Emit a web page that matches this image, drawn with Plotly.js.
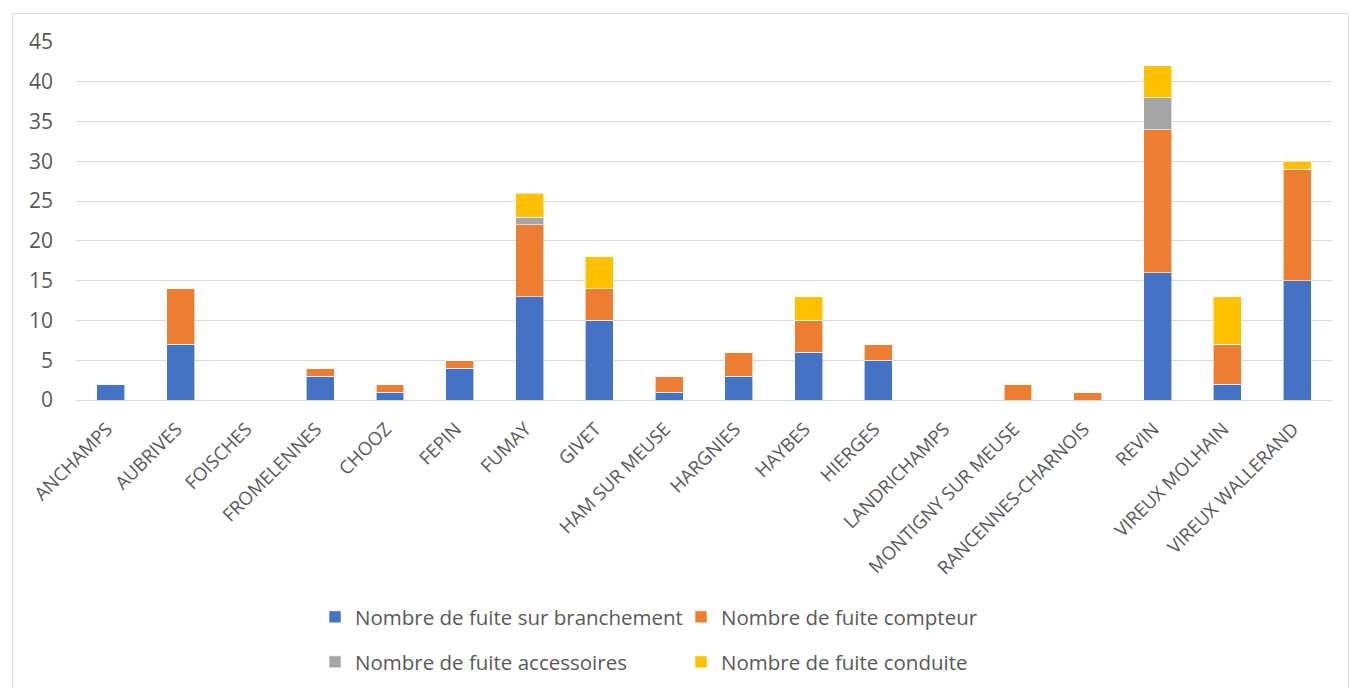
<!DOCTYPE html>
<html>
<head>
<meta charset="utf-8">
<script src="https://cdn.plot.ly/plotly-3.0.1.min.js"></script>
<style>html,body{margin:0;padding:0;background:#fff;}#chart{width:1349px;height:688px;}</style>
</head>
<body>
<div id="chart"></div>
<script>
const communes = ["ANCHAMPS","AUBRIVES","FOISCHES","FROMELENNES","CHOOZ","FEPIN","FUMAY","GIVET","HAM SUR MEUSE","HARGNIES","HAYBES","HIERGES","LANDRICHAMPS","MONTIGNY SUR MEUSE","RANCENNES-CHARNOIS","REVIN","VIREUX MOLHAIN","VIREUX WALLERAND"];
const branchement = [2,7,0,3,1,4,13,10,1,3,6,5,0,0,0,16,2,15];
const compteur    = [0,7,0,1,1,1,9,4,2,3,4,2,0,2,1,18,5,14];
const accessoires = [0,0,0,0,0,0,1,0,0,0,0,0,0,0,0,4,0,0];
const conduite    = [0,0,0,0,0,0,3,4,0,0,3,0,0,0,0,4,6,1];
const seriesNames = ["Nombre de fuite sur branchement","Nombre de fuite compteur","Nombre de fuite accessoires","Nombre de fuite conduite"];
const yTicks = [0,5,10,15,20,25,30,35,40,45];

const colors = ["#4472C4","#ED7D31","#A5A5A5","#FFC000"];
const vals = [branchement, compteur, accessoires, conduite];
const legendIds = ["legend","legend","legend2","legend2"];
const traces = vals.map((v,i)=>({
  type:"bar", name:seriesNames[i], x:communes, y:v,
  marker:{color:colors[i], line:{color:"rgba(255,255,255,0.6)", width:1}},
  legend:legendIds[i], hoverinfo:"none"
}));

const fontFam = "Open Sans, sans-serif";
const legendBase = {
  orientation:"h", xref:"container", yref:"container", xanchor:"left", yanchor:"middle",
  font:{family:fontFam, size:20.5, color:"#595959"}, entrywidth:321, entrywidthmode:"pixels",
  bgcolor:"rgba(0,0,0,0)", itemclick:false, itemdoubleclick:false, traceorder:"normal"
};
const layout = {
  width:1349, height:688,
  margin:{l:76, r:17, t:42, b:288},
  paper_bgcolor:"#fff", plot_bgcolor:"#fff",
  barmode:"stack", bargap:0.6,
  showlegend:true,
  legend:Object.assign({}, legendBase, {x:315/1349, y:1-617/688}),
  legend2:Object.assign({}, legendBase, {x:315/1349, y:1-662/688}),
  xaxis:{
    type:"category", tickangle:-45, showgrid:false, zeroline:false,
    showline:true, linecolor:"#d9d9d9", linewidth:1, ticks:"",
    ticklabelstandoff:10, ticklabelshift:-4,
    tickfont:{family:fontFam, size:18.5, color:"#595959"}, fixedrange:true
  },
  yaxis:{
    range:[0,45], tickvals:yTicks, ticktext:yTicks.map(String),
    showgrid:true, gridcolor:"#d9d9d9", gridwidth:1, zeroline:false, showline:false, ticks:"",
    ticklabelstandoff:22,
    tickfont:{family:fontFam, size:21, color:"#595959"}, fixedrange:true
  },
  shapes:[{
    type:"rect", xref:"paper", yref:"paper",
    x0:(12.5-76)/1256, x1:(1348.5-76)/1256, y0:(400-700)/358, y1:(400-13.5)/358,
    line:{color:"#d9d9d9", width:1}, fillcolor:"rgba(0,0,0,0)", layer:"below"
  }]
};
Plotly.newPlot("chart", traces, layout, {displayModeBar:false, staticPlot:true});
</script>
</body>
</html>
